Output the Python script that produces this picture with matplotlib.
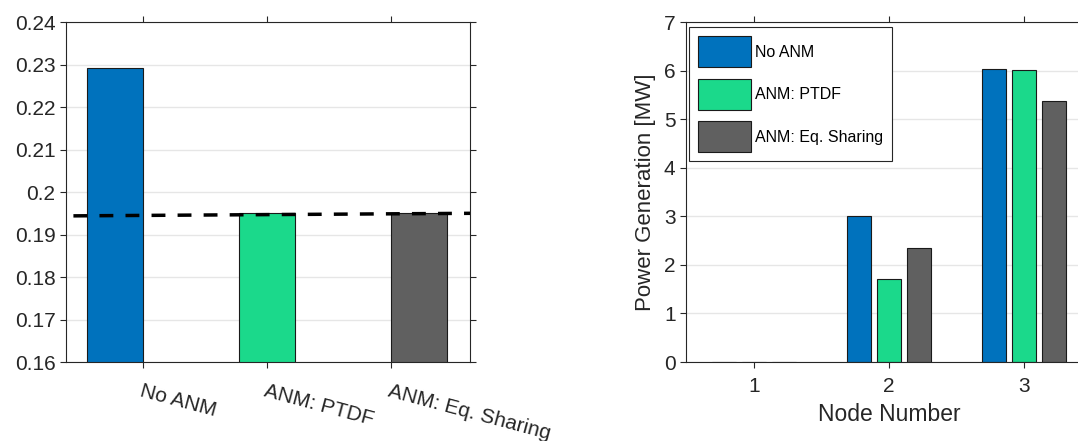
import numpy as np
import matplotlib
matplotlib.use("Agg")
import matplotlib.pyplot as plt

plt.rcParams['font.family'] = ['Liberation Sans', 'DejaVu Sans']

# left panel data
methods = ['No ANM', 'ANM: PTDF', 'ANM: Eq. Sharing']
metric = [0.2292, 0.195, 0.195]
ref_x = [0.44, 3.65]
ref_y = [0.1944, 0.1950]

# right panel data
nodes = [1, 2, 3]
gen_no_anm = [0.0, 3.01, 6.03]
gen_ptdf = [0.0, 1.70, 6.01]
gen_eq = [0.0, 2.35, 5.37]

colors = ['#0072BD', '#1BD98B', '#606060']
axcol = '#262626'


def style(ax):
    ax.tick_params(direction='out', length=4, width=0.8, colors=axcol,
                   top=True, right=True, labelsize=15)
    for s in ax.spines.values():
        s.set_color(axcol)
        s.set_linewidth(0.8)
    ax.yaxis.grid(True, color='#e6e6e6', linewidth=1)
    ax.set_axisbelow(True)


fig = plt.figure(figsize=(10.78, 4.41), dpi=100)

# left: each bar drawn as a separate series in a grouped layout
ax1 = fig.add_axes([0.0612, 0.179, 0.375, 0.771])
x = np.arange(1, 4)
offs = [-0.226, 0.0, 0.226]
for i in range(3):
    vals = [metric[i] if j == i else 0.0 for j in range(3)]
    ax1.bar(x + offs[i], vals, width=0.452, color=colors[i],
            edgecolor='#1a1a1a', linewidth=0.8)
ax1.plot(ref_x, ref_y, '--', color='black', linewidth=2.5, dashes=(4, 3.5))
ax1.set_xlim(0.38, 3.64)
ax1.set_ylim(0.16, 0.24)
ax1.set_yticks(np.arange(0.16, 0.2401, 0.01))
ax1.set_yticklabels(['0.16', '0.17', '0.18', '0.19', '0.2', '0.21', '0.22', '0.23', '0.24'])
ax1.set_xticks(x)
ax1.set_xticklabels(methods, rotation=-15, ha='left', rotation_mode='anchor')
style(ax1)
ax1.tick_params(axis='x', pad=10)

# right: grouped bars per node
ax2 = fig.add_axes([0.6364, 0.179, 0.3766, 0.771])
series = [gen_no_anm, gen_ptdf, gen_eq]
labels = ['No ANM', 'ANM: PTDF', 'ANM: Eq. Sharing']
nx = np.array(nodes, dtype=float)
for i, (vals, lab) in enumerate(zip(series, labels)):
    ax2.bar(nx + (i - 1) * 0.222, vals, width=0.178, color=colors[i],
            edgecolor='#1a1a1a', linewidth=0.8, label=lab)
ax2.set_xlim(0.5, 3.5)
ax2.set_ylim(0, 7)
ax2.set_xticks(nodes)
ax2.set_yticks(range(0, 8))
style(ax2)
ax2.tick_params(axis='x', pad=7)
ax2.set_xlabel('Node Number', fontsize=16.5, color=axcol, labelpad=5)
ax2.set_ylabel('Power Generation [MW]', fontsize=16, color=axcol, labelpad=6)
leg = ax2.legend(loc='upper left', fontsize=11.5, handlelength=3.3, handleheight=2.64,
                 handletextpad=0.25, labelspacing=0.7, borderpad=0.55,
                 fancybox=False, framealpha=1, edgecolor=axcol,
                 bbox_to_anchor=(-0.012, 1.008))
leg.get_frame().set_linewidth(0.8)

fig.savefig('out.png', dpi=100)
